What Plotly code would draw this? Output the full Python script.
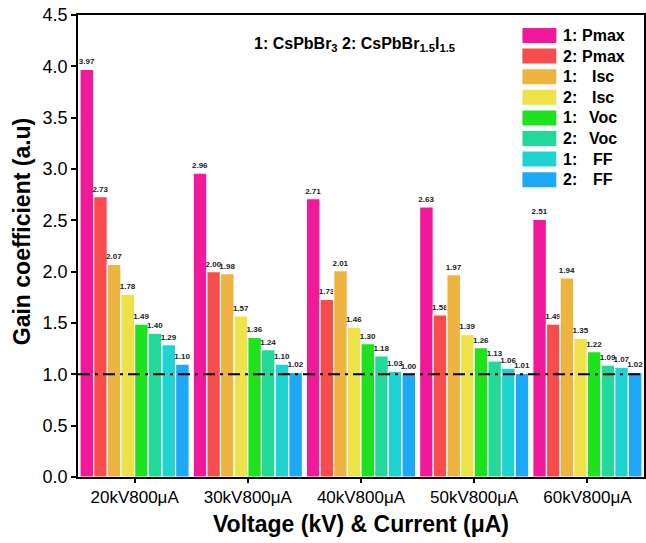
import plotly.graph_objects as go

categories = ["20kV800μA", "30kV800μA", "40kV800μA", "50kV800μA", "60kV800μA"]
series_names = ["1: Pmax", "2: Pmax", "1: Isc", "2: Isc", "1: Voc", "2: Voc", "1: FF", "2: FF"]
legend_num = ["1:", "2:", "1:", "2:", "1:", "2:", "1:", "2:"]
legend_lbl = ["Pmax", "Pmax", "Isc", "Isc", "Voc", "Voc", "FF", "FF"]

pmax1 = [3.97, 2.96, 2.71, 2.63, 2.51]
pmax2 = [2.73, 2.00, 1.73, 1.58, 1.49]
isc1 = [2.07, 1.98, 2.01, 1.97, 1.94]
isc2 = [1.78, 1.57, 1.46, 1.39, 1.35]
voc1 = [1.49, 1.36, 1.30, 1.26, 1.22]
voc2 = [1.40, 1.24, 1.18, 1.13, 1.09]
ff1 = [1.29, 1.10, 1.03, 1.06, 1.07]
ff2 = [1.10, 1.02, 1.00, 1.01, 1.02]
series_values = [pmax1, pmax2, isc1, isc2, voc1, voc2, ff1, ff2]

colors = ["#F0199A", "#F94D4D", "#EDB442", "#EEE24A", "#1DE21D", "#22D99A", "#1FD3D3", "#1EA9F8"]

W, H = 646, 543
L, R, T, B = 78, 0, 15, 66
pw, ph = W - L - R, H - T - B


def px(x):
    return (x - L) / pw


def py(y):
    return (H - B - y) / ph


FONT = "Arial, Liberation Sans, sans-serif"

fig = go.Figure()
for name, vals, col in zip(series_names, series_values, colors):
    fig.add_trace(go.Bar(
        x=categories, y=vals, name=name,
        marker=dict(color=col, line=dict(color="white", width=1.2)),
        text=[f"<b>{v:.2f}</b>" for v in vals],
        textposition="outside",
        textfont=dict(size=8, color="#222", family=FONT),
        constraintext="none",
        cliponaxis=False,
        showlegend=False,
    ))

shapes = [dict(type="line", xref="paper", yref="y", x0=0, x1=1, y0=1.0, y1=1.0,
               line=dict(color="black", width=2, dash="12px,5px,3px,5px"))]
annotations = [
    dict(xref="paper", yref="paper", x=px(253), y=py(44), xanchor="left", yanchor="middle",
         text="<b>1: CsPbBr<sub>3</sub> 2: CsPbBr<sub>1.5</sub>I<sub>1.5</sub></b>",
         showarrow=False, font=dict(size=16, family=FONT, color="black")),
    dict(xref="paper", yref="paper", x=px(22), y=py(232), xanchor="center", yanchor="middle",
         text="<b>Gain coefficient (a.u)</b>", textangle=-90,
         showarrow=False, font=dict(size=23, family=FONT, color="black")),
]

for i in range(8):
    cy = 35.5 + 20.6 * i
    shapes.append(dict(type="rect", xref="paper", yref="paper",
                       x0=px(524), x1=px(558), y0=py(cy + 7.5), y1=py(cy - 7.5),
                       fillcolor=colors[i], line=dict(width=0)))
    annotations.append(dict(xref="paper", yref="paper", x=px(563), y=py(cy), xanchor="left", yanchor="middle",
                            text=f"<b>{legend_num[i]}</b>", showarrow=False,
                            font=dict(size=16, family=FONT, color="black")))
    annotations.append(dict(xref="paper", yref="paper", x=px(605), y=py(cy), xanchor="center", yanchor="middle",
                            text=f"<b>{legend_lbl[i]}</b>", showarrow=False,
                            font=dict(size=16, family=FONT, color="black")))

fig.update_layout(
    width=W, height=H,
    margin=dict(l=L, r=R, t=T, b=B),
    paper_bgcolor="white", plot_bgcolor="white",
    barmode="group", bargap=0.035, bargroupgap=0,
    shapes=shapes, annotations=annotations,
    font=dict(family=FONT, color="black"),
)
fig.update_xaxes(
    showline=True, linecolor="black", linewidth=1.5, mirror=True,
    ticks="outside", ticklen=4, tickwidth=1.5, tickcolor="black",
    tickfont=dict(size=17, family=FONT),
    title=dict(text="<b>Voltage (kV) & Current (μA)</b>", font=dict(size=23, family=FONT), standoff=10),
    showgrid=False,
)
fig.update_yaxes(
    range=[0, 4.5], dtick=0.5, tickformat=".1f",
    showline=True, linecolor="black", linewidth=1.5, mirror=True,
    ticks="outside", ticklen=5, tickwidth=1.5, tickcolor="black",
    tickfont=dict(size=18, family=FONT),
    showgrid=False, zeroline=False,
)

fig.write_html("out.html")
